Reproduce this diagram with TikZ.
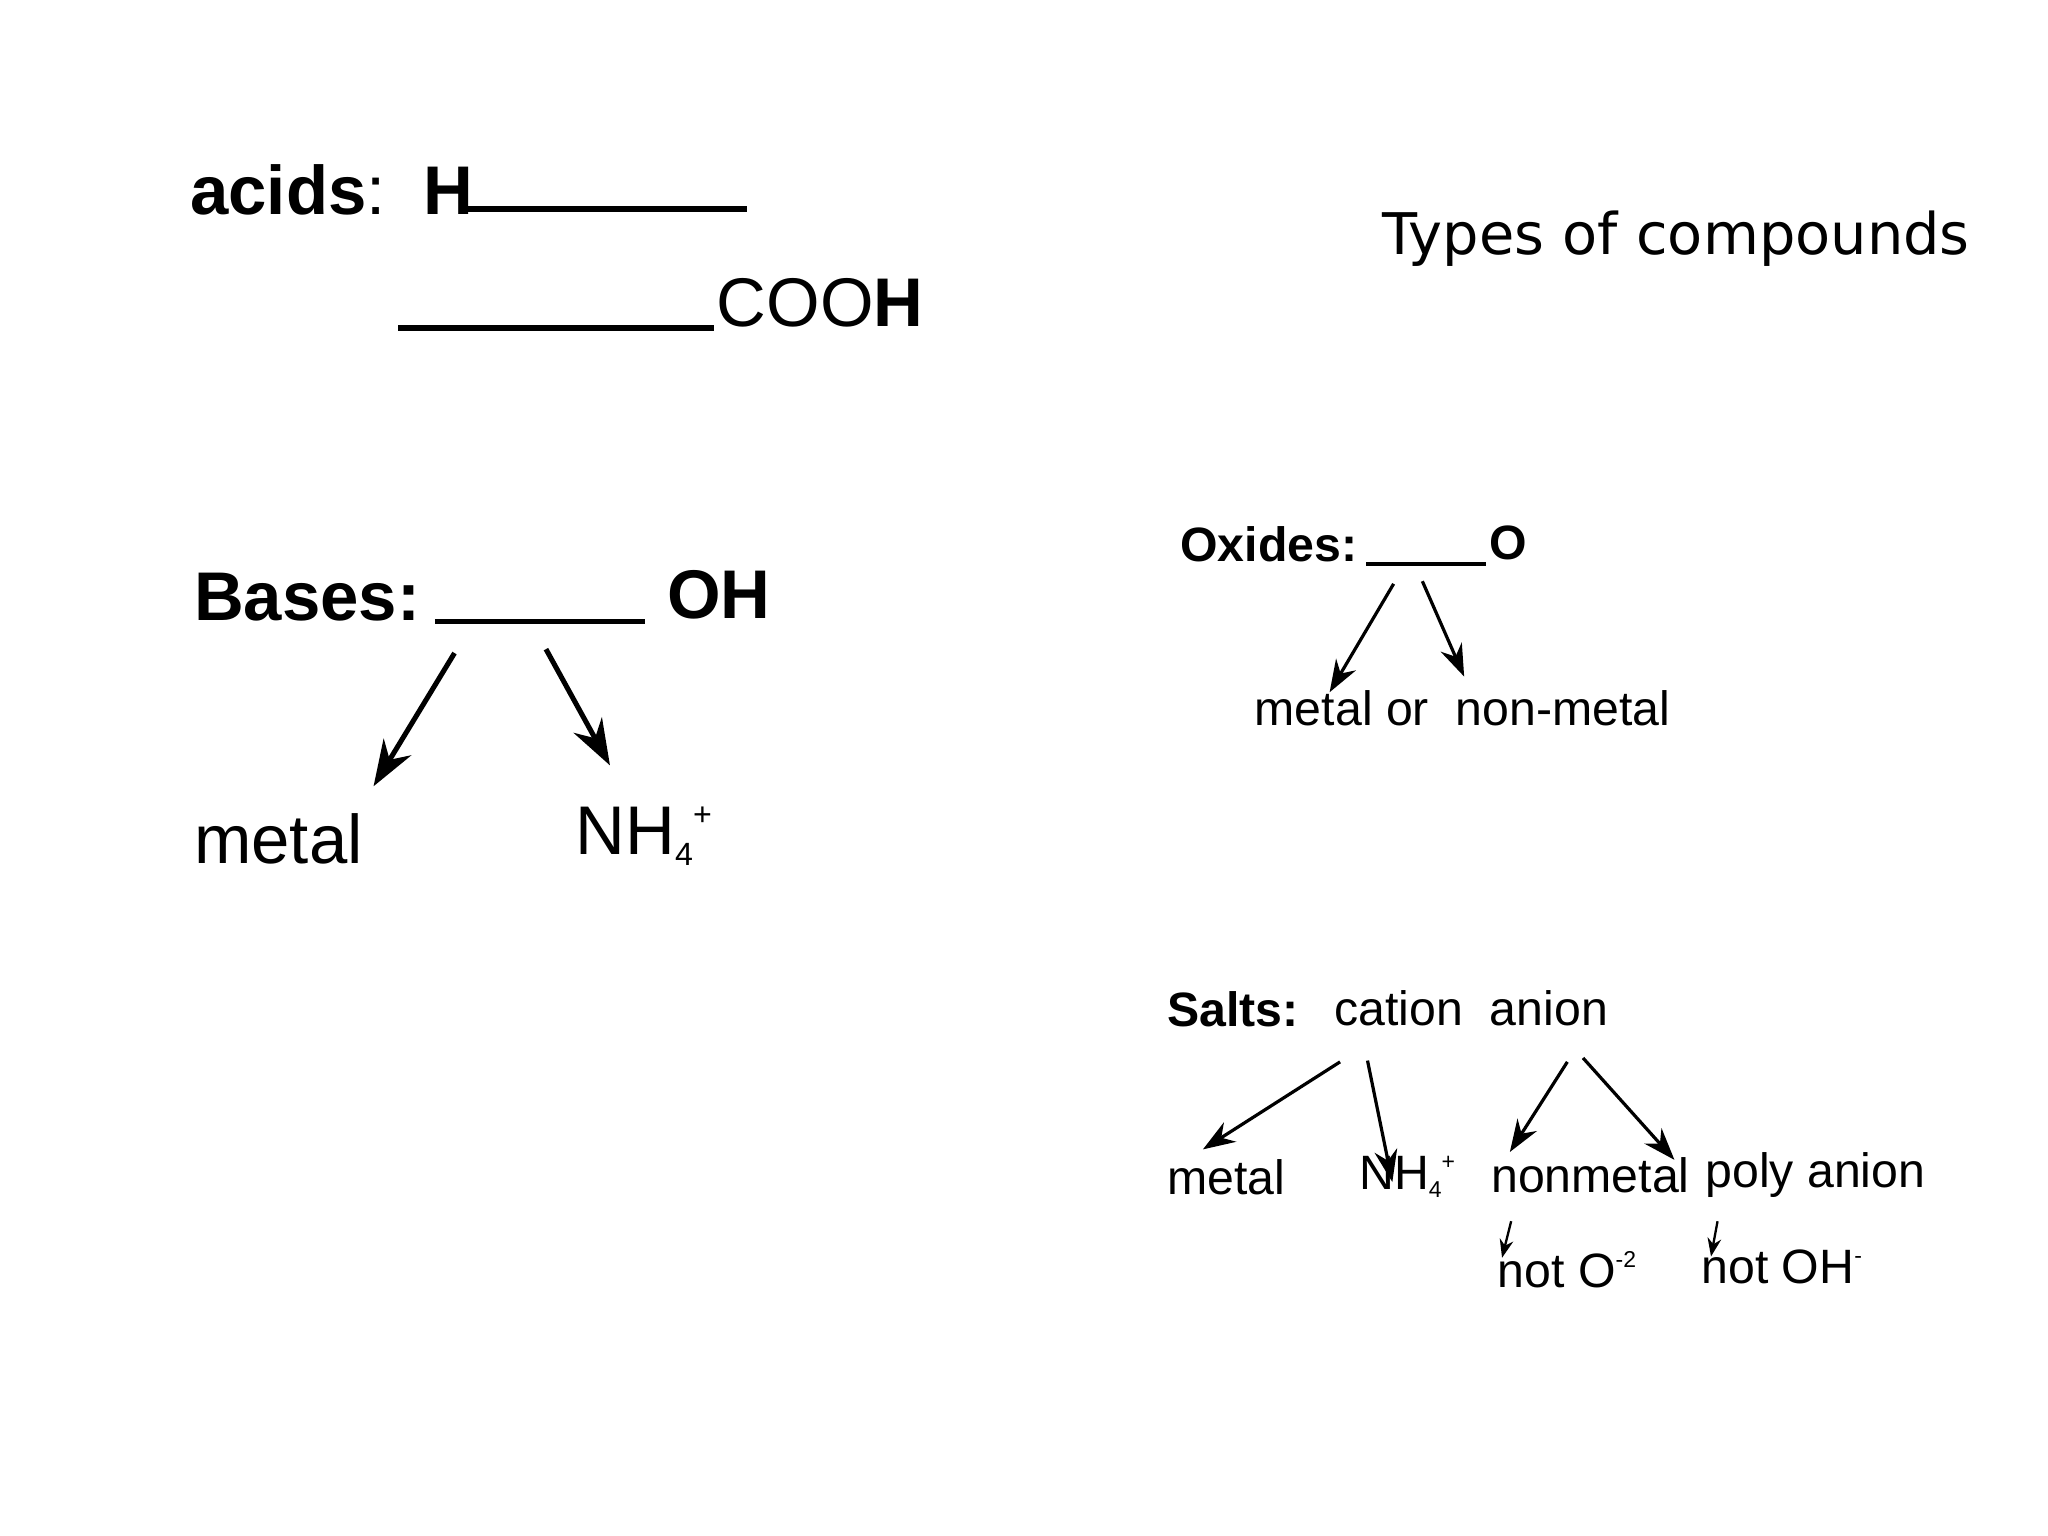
\documentclass[tikz,border=0pt]{standalone}
\usepackage{fontspec}
\setmainfont{Liberation Sans}
\newfontfamily\verd{DejaVu Sans}
\usetikzlibrary{arrows.meta}
\begin{document}
\begin{tikzpicture}[x=0.01cm,y=-0.01cm,
  big/.style={anchor=west,inner sep=0pt,font=\fontsize{15}{18}\selectfont},
  mid/.style={anchor=west,inner sep=0pt,font=\fontsize{10.5}{13}\selectfont},
  blank/.style={line width=1.2pt},
  arr/.style={-{Stealth[length=10pt,width=7pt]},line width=1.1pt},
  sarr/.style={-{Stealth[length=7pt,width=5pt]},line width=0.7pt},
  tarr/.style={-{Stealth[length=4pt,width=3pt]},line width=0.5pt}]
\useasboundingbox (0,0) rectangle (1568,1176);
% acids
\node[big] (acids) at (145,145) {\textbf{acids}:~~\textbf{H}};
\coordinate (a1) at (357,160); \coordinate (a2) at (572,160);
\draw[blank] (a1) -- (a2);
\coordinate (c1) at (305,251); \coordinate (c2) at (547,251);
\draw[blank] (c1) -- (c2);
\node[big] (cooh) at (548,232) {COO\textbf{H}};
% bases
\node[big] (bases) at (148,457) {\textbf{Bases:}};
\coordinate (b1) at (333,476); \coordinate (b2) at (494,476);
\draw[blank] (b1) -- (b2);
\node[big] (oh) at (510,455) {\textbf{OH}};
\coordinate (bs1) at (348,500); \coordinate (bs2) at (418,497);
\node[big] (bmetal) at (148,642) {metal};
\node[big] (bnh) at (440,640) {NH\raisebox{-0.3ex}{\scriptsize 4}\raisebox{0.8ex}{\scriptsize +}};
\draw[arr] (bs1) -- (286,602);
\draw[arr] (bs2) -- (467,586);
% title
\node[anchor=west,inner sep=0pt,font=\verd\fontsize{12.5}{15}\selectfont] (title) at (1058,183) {Types of compounds};
% oxides
\node[mid] (ox) at (903,417) {\textbf{Oxides:}};
\coordinate (o1) at (1046,432); \coordinate (o2) at (1138,432);
\draw[line width=0.9pt] (o1) -- (o2);
\node[mid] (oo) at (1140,416) {\textbf{O}};
\node[mid] (mon) at (960,542) {metal or~ non-metal};
\draw[sarr] (1067,447) -- (1018,530);
\draw[sarr] (1089,445) -- (1121,518);
% salts
\node[mid] (salts) at (893,773) {\textbf{Salts:}};
\node[mid] (ca) at (1021,772) {cation~ anion};
\node[mid] (smetal) at (893,901) {metal};
\node[mid] (snh) at (1040,901) {NH\raisebox{-0.3ex}{\tiny 4}\raisebox{0.8ex}{\tiny +}};
\node[mid] (snon) at (1141,900) {nonmetal};
\node[mid] (spoly) at (1305,900) {poly anion};
\node[mid] (no2) at (1146,972) {not O\raisebox{0.8ex}{\tiny -2}};
\node[mid] (noh) at (1302,970) {not OH\raisebox{0.8ex}{\tiny -}};
\draw[sarr] (1026,813) -- (921,880);
\draw[sarr] (1047,812) -- (1066,905);
\draw[sarr] (1200,813) -- (1156,882);
\draw[sarr] (1212,810) -- (1282,888);
\draw[tarr] (1157,935) -- (1150,963);
\draw[tarr] (1315,935) -- (1310,962);
\end{tikzpicture}
\end{document}
